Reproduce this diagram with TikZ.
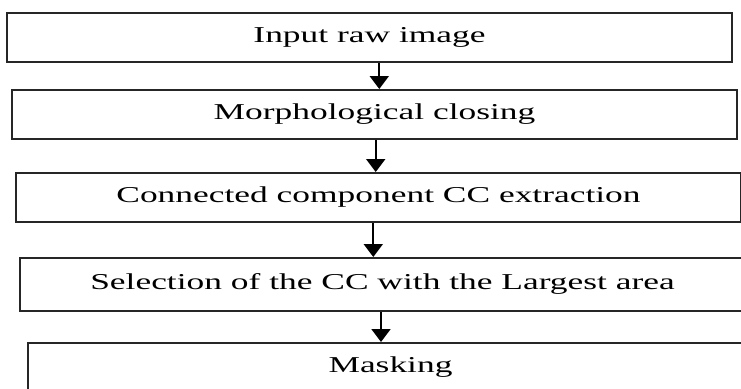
\documentclass[tikz,border=0pt]{standalone}
\usepackage{fontspec}
\setmainfont[FakeStretch=1.56]{Liberation Serif}
\usepackage{tikz}
\usetikzlibrary{arrows.meta,positioning,calc}

\begin{document}
\begin{tikzpicture}[x=0.5pt,y=-0.5pt,>={Triangle[length=6.5pt,width=9.5pt]},line width=1pt]
\tikzstyle{stage} = [draw=black!85,rectangle,minimum width=362.5pt,minimum height=24.5pt,
  text height=0.68em,text depth=0.22em,font=\fontsize{11.35pt}{13pt}\selectfont]

\useasboundingbox (0,0) rectangle (741,388);
\clip (0,0) rectangle (741,388);

\node[stage] (input)   at (369.5,37.5) {Input raw image};
\node[stage] (closing) at (374.5,114.5) {Morphological closing};
\node[stage] (ccext)   at (378.5,197.5) {Connected component CC extraction};
\node[stage,minimum height=26.5pt] (largest) at (382.5,284.5) {Selection of the CC with the Largest area};
\node[stage] (mask)    at (390.5,367.5) {Masking};

% arrows between the steps
\draw[->] ([xshift=4.9pt]input.south) -- ([xshift=4.9pt]input.south |- closing.north);
\draw[->] ([xshift=0.6pt]closing.south) -- ([xshift=0.6pt]closing.south |- ccext.north);
\draw[->] ([xshift=-2.6pt]ccext.south) -- ([xshift=-2.6pt]ccext.south |- largest.north);
\draw[->] ([xshift=-0.75pt]largest.south) -- ([xshift=-0.75pt]largest.south |- mask.north);
\end{tikzpicture}
\end{document}
